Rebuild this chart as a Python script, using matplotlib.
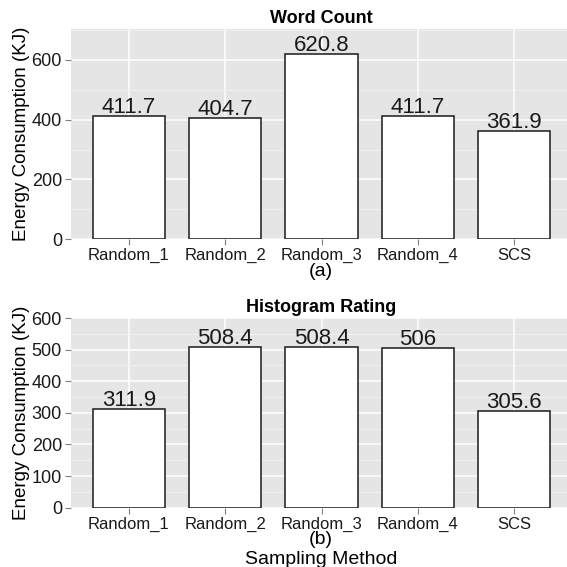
import numpy as np
import matplotlib
matplotlib.use('Agg')
import matplotlib.pyplot as plt
from matplotlib.ticker import MultipleLocator

plt.rcParams['font.family'] = ['Liberation Sans', 'DejaVu Sans']

# Energy consumption per sampling method
metodos = ['Random_1', 'Random_2', 'Random_3', 'Random_4', 'SCS']
word_count = [411.7, 404.7, 620.8, 411.7, 361.9]
histogram_rating = [311.9, 508.4, 508.4, 506.0, 305.6]

W, H = 567, 567
fig = plt.figure(figsize=(W / 100, H / 100), dpi=100)


def px_axes(left, top, right, bottom):
    return fig.add_axes([left / W, 1 - bottom / H, (right - left) / W, (bottom - top) / H])


def panel(ax, valores, ymax, major, minor, titulo, subtitulo, sub_y):
    x = np.arange(1, len(metodos) + 1)
    ax.set_facecolor('#E5E5E5')
    ax.set_xlim(0.4, len(metodos) + 0.6)
    ax.set_ylim(0, ymax)
    ax.yaxis.set_major_locator(MultipleLocator(major))
    ax.yaxis.set_minor_locator(MultipleLocator(minor))
    ax.set_xticks(x)
    ax.set_xticklabels(metodos, fontsize=12, color='#1a1a1a')
    ax.tick_params(axis='y', labelsize=13, labelcolor='#1a1a1a')
    ax.tick_params(which='major', length=4, width=0.8, color='#7f7f7f', pad=2.5)
    ax.tick_params(which='minor', length=0)
    ax.grid(which='major', color='white', linewidth=1.1)
    ax.grid(which='minor', axis='y', color='#F2F2F2', linewidth=0.6)
    ax.set_axisbelow(True)
    for s in ax.spines.values():
        s.set_visible(False)
    ax.bar(x, valores, width=0.75, color='white', edgecolor='#1a1a1a', linewidth=1.1)
    for xi, v in zip(x, valores):
        ax.annotate(f'{v:g}', (xi, v), xytext=(0, 2), textcoords='offset points',
                    ha='center', va='baseline', fontsize=16, color='#1a1a1a')
    ax.set_title(titulo, fontsize=13, fontweight='bold', pad=4)
    fig.text(321 / W, 1 - sub_y / H, subtitulo, ha='center', va='center', fontsize=14)
    ax.set_ylabel('Energy Consumption (KJ)', fontsize=13.5, va='center')
    ax.yaxis.set_label_coords(-0.098, 0.5)


ax1 = px_axes(71, 29, 572, 239.3)
panel(ax1, word_count, 703, 200, 100, 'Word Count', '(a)', 272)

ax2 = px_axes(71, 317.7, 572, 507.7)
panel(ax2, histogram_rating, 601, 100, 50, 'Histogram Rating', '(b)', 540)

fig.text(321 / W, 1 - 560 / H, 'Sampling Method', ha='center', va='center', fontsize=14)

fig.savefig('out.png', dpi=100)
